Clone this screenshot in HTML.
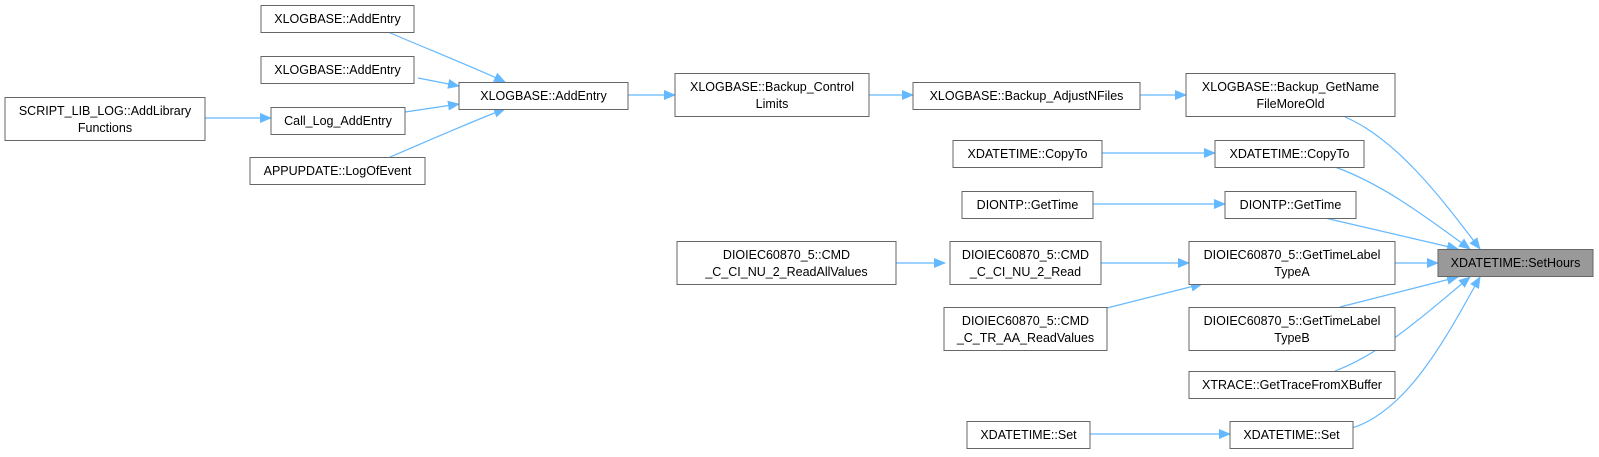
<!DOCTYPE html>
<html><head><meta charset="utf-8"><style>
html,body{margin:0;padding:0;background:#fff;}
svg{display:block;}
text{font-family:"Liberation Sans",Arial,sans-serif;font-size:12.5px;fill:#000;}
rect.n{fill:#fff;stroke:#666;stroke-width:1;}
path.e{fill:none;stroke:#63b8ff;stroke-width:1.2;}
</style></head><body>
<svg width="1599" height="457" viewBox="0 0 1599 457" xmlns="http://www.w3.org/2000/svg">
<defs><marker id="a" markerWidth="12" markerHeight="10" refX="11" refY="5" orient="auto" markerUnits="userSpaceOnUse"><path d="M0,0 L12,5 L0,10 z" fill="#63b8ff"/></marker></defs>
<g>
<path class="e" marker-end="url(#a)" d="M388,32 C430,50 480,70 505,82"/>
<path class="e" marker-end="url(#a)" d="M418,78 L459,86"/>
<path class="e" marker-end="url(#a)" d="M405,112 L459,104"/>
<path class="e" marker-end="url(#a)" d="M390,157 C430,140 480,118 505,109"/>
<path class="e" marker-end="url(#a)" d="M205,118 L271,118"/>
<path class="e" marker-end="url(#a)" d="M628,95 L675,95"/>
<path class="e" marker-end="url(#a)" d="M869,95 L913,95"/>
<path class="e" marker-end="url(#a)" d="M1140,95 L1186,95"/>
<path class="e" marker-end="url(#a)" d="M1102,153 L1215,153"/>
<path class="e" marker-end="url(#a)" d="M1093,204 L1225,204"/>
<path class="e" marker-end="url(#a)" d="M896,263 L945,263"/>
<path class="e" marker-end="url(#a)" d="M1101,263 L1189,263"/>
<path class="e" marker-end="url(#a)" d="M1107,308 L1202,284"/>
<path class="e" marker-end="url(#a)" d="M1090,434 L1230,434"/>
<path class="e" marker-end="url(#a)" d="M1345,117 C1400,140 1450,210 1480,249"/>
<path class="e" marker-end="url(#a)" d="M1335,167 C1385,185 1430,220 1470,249"/>
<path class="e" marker-end="url(#a)" d="M1325,218 L1458,249"/>
<path class="e" marker-end="url(#a)" d="M1395,263 L1438,263"/>
<path class="e" marker-end="url(#a)" d="M1340,307 L1458,277"/>
<path class="e" marker-end="url(#a)" d="M1335,371 C1385,352 1430,310 1470,277"/>
<path class="e" marker-end="url(#a)" d="M1352,428 C1410,410 1450,330 1480,277"/>
</g>
<g>
<rect class="n" x="261" y="5.5" width="153" height="27"/><text x="337.5" y="23" text-anchor="middle">XLOGBASE::AddEntry</text>
<rect class="n" x="261" y="56.5" width="153" height="27"/><text x="337.5" y="74" text-anchor="middle">XLOGBASE::AddEntry</text>
<rect class="n" x="271" y="107.5" width="134" height="27"/><text x="338" y="125" text-anchor="middle">Call_Log_AddEntry</text>
<rect class="n" x="250" y="157.5" width="175" height="27"/><text x="337.5" y="175" text-anchor="middle">APPUPDATE::LogOfEvent</text>
<rect class="n" x="5" y="97.5" width="200" height="43"/><text x="105" y="115" text-anchor="middle">SCRIPT_LIB_LOG::AddLibrary</text><text x="105" y="132" text-anchor="middle">Functions</text>
<rect class="n" x="459" y="82.5" width="169" height="27"/><text x="543.5" y="100" text-anchor="middle">XLOGBASE::AddEntry</text>
<rect class="n" x="675" y="73.5" width="194" height="43"/><text x="772" y="91" text-anchor="middle">XLOGBASE::Backup_Control</text><text x="772" y="108" text-anchor="middle">Limits</text>
<rect class="n" x="913" y="82.5" width="227" height="27"/><text x="1026.5" y="100" text-anchor="middle">XLOGBASE::Backup_AdjustNFiles</text>
<rect class="n" x="1186" y="73.5" width="209" height="43"/><text x="1290.5" y="91" text-anchor="middle">XLOGBASE::Backup_GetName</text><text x="1290.5" y="108" text-anchor="middle">FileMoreOld</text>
<rect class="n" x="953" y="140.5" width="149" height="27"/><text x="1027.5" y="158" text-anchor="middle">XDATETIME::CopyTo</text>
<rect class="n" x="1215" y="140.5" width="149" height="27"/><text x="1289.5" y="158" text-anchor="middle">XDATETIME::CopyTo</text>
<rect class="n" x="962" y="191.5" width="131" height="27"/><text x="1027.5" y="209" text-anchor="middle">DIONTP::GetTime</text>
<rect class="n" x="1225" y="191.5" width="131" height="27"/><text x="1290.5" y="209" text-anchor="middle">DIONTP::GetTime</text>
<rect class="n" x="677" y="241.5" width="219" height="43"/><text x="786.5" y="259" text-anchor="middle">DIOIEC60870_5::CMD</text><text x="786.5" y="276" text-anchor="middle">_C_CI_NU_2_ReadAllValues</text>
<rect class="n" x="950" y="241.5" width="151" height="43"/><text x="1025.5" y="259" text-anchor="middle">DIOIEC60870_5::CMD</text><text x="1025.5" y="276" text-anchor="middle">_C_CI_NU_2_Read</text>
<rect class="n" x="1189" y="241.5" width="206" height="43"/><text x="1292" y="259" text-anchor="middle">DIOIEC60870_5::GetTimeLabel</text><text x="1292" y="276" text-anchor="middle">TypeA</text>
<rect x="1438" y="249.5" width="155" height="27" fill="#999" stroke="#666"/><text x="1515.5" y="267" text-anchor="middle">XDATETIME::SetHours</text>
<rect class="n" x="944" y="307.5" width="163" height="43"/><text x="1025.5" y="325" text-anchor="middle">DIOIEC60870_5::CMD</text><text x="1025.5" y="342" text-anchor="middle">_C_TR_AA_ReadValues</text>
<rect class="n" x="1189" y="307.5" width="206" height="43"/><text x="1292" y="325" text-anchor="middle">DIOIEC60870_5::GetTimeLabel</text><text x="1292" y="342" text-anchor="middle">TypeB</text>
<rect class="n" x="1189" y="371.5" width="206" height="27"/><text x="1292" y="389" text-anchor="middle">XTRACE::GetTraceFromXBuffer</text>
<rect class="n" x="967" y="421.5" width="123" height="27"/><text x="1028.5" y="439" text-anchor="middle">XDATETIME::Set</text>
<rect class="n" x="1230" y="421.5" width="123" height="27"/><text x="1291.5" y="439" text-anchor="middle">XDATETIME::Set</text>
</g>
</svg>
</body></html>
